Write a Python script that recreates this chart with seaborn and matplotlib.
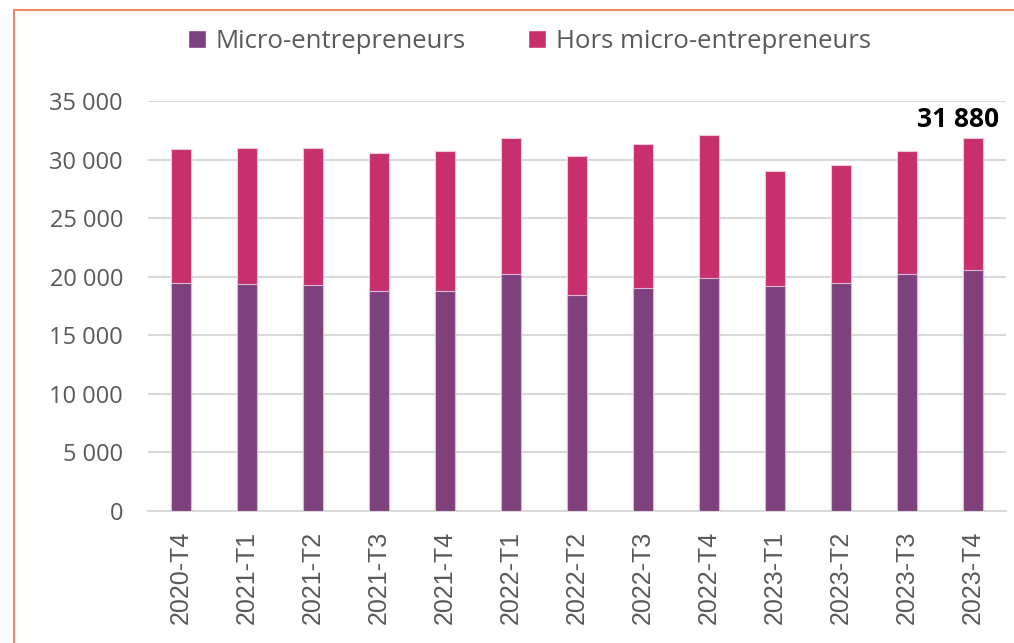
import numpy as np
import pandas as pd
import matplotlib
matplotlib.use("Agg")
import matplotlib.pyplot as plt
from matplotlib.patches import Patch
from matplotlib.lines import Line2D
from matplotlib.ticker import FuncFormatter
import seaborn as sns

periods = ["2020-T4", "2021-T1", "2021-T2", "2021-T3", "2021-T4", "2022-T1", "2022-T2",
           "2022-T3", "2022-T4", "2023-T1", "2023-T2", "2023-T3", "2023-T4"]
micro = [19450, 19350, 19270, 18760, 18810, 20230, 18410, 19010, 19860, 19210, 19440, 20200, 20550]
hors = [11430, 11610, 11720, 11840, 11900, 11610, 11870, 12320, 12240, 9790, 10070, 10570, 11330]
series_names = ["Micro-entrepreneurs", "Hors micro-entrepreneurs"]
last_label = "31 880"

PURPLE = "#7F417D"
PINK = "#C8306D"
GRID = "#D9D9D9"
TXT = "#595959"

sns.set_theme(style="white")
plt.rcParams['font.family'] = ['Open Sans', 'DejaVu Sans']

df = pd.DataFrame({"period": periods, "micro": micro, "hors": hors})
df["total"] = df["micro"] + df["hors"]

fig = plt.figure(figsize=(10.14, 6.43), dpi=100)
ax = fig.add_axes([148/1014, 132/643, (1006-148)/1014, (511-101)/643])

sns.barplot(data=df, x="period", y="total", color=PINK, width=0.31, ax=ax,
            saturation=1, edgecolor="#F0C6D8", linewidth=0.8, zorder=3)
sns.barplot(data=df, x="period", y="micro", color=PURPLE, width=0.31, ax=ax,
            saturation=1, edgecolor="#D9B8D6", linewidth=0.8, zorder=3)

ax.set_xlim(-0.5, len(periods) - 0.5)
ax.set_ylim(0, 35000)
ax.set_yticks(np.arange(0, 35001, 5000))
ax.yaxis.set_major_formatter(FuncFormatter(lambda v, p: f"{int(v):,}".replace(",", " ")))
ax.grid(axis="y", color=GRID, linewidth=1.5, zorder=0)
ax.set_axisbelow(True)
for s in ["top", "right", "left"]:
    ax.spines[s].set_visible(False)
ax.spines["bottom"].set_color(GRID)
ax.spines["bottom"].set_linewidth(1.5)
ax.set_xlabel("")
ax.set_ylabel("")
ax.tick_params(axis="y", length=0, pad=18, labelsize=17, labelcolor=TXT)
ax.tick_params(axis="x", length=0, pad=14, labelsize=18, labelcolor=TXT, rotation=90)
for t in ax.get_xticklabels():
    t.set_family(['Liberation Sans', 'DejaVu Sans'])

ax.text(len(periods) - 1 - 15/66, df["total"].iloc[-1] + 1500, last_label,
        ha="center", va="center", fontsize=19, fontweight="bold", color="black")

handles = [Patch(facecolor=PURPLE), Patch(facecolor=PINK)]
fig.legend(handles, series_names, loc="center", bbox_to_anchor=(0.522, 0.935), ncol=2,
           frameon=False, fontsize=18.5, handlelength=0.7, handleheight=0.7,
           handletextpad=0.4, columnspacing=2.4, labelcolor=TXT)

# orange frame lines
fig.add_artist(Line2D([14/1014, 1.0], [1 - 10/643, 1 - 10/643], transform=fig.transFigure,
                      color="#EE8A62", linewidth=1.5))
fig.add_artist(Line2D([14/1014, 14/1014], [0, 1 - 10/643], transform=fig.transFigure,
                      color="#EE8A62", linewidth=1.5))

fig.savefig("out.png", dpi=100)
